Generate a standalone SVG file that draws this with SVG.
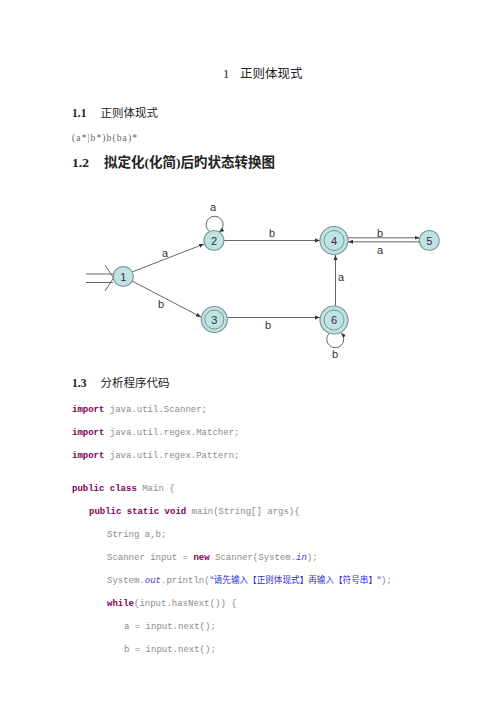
<svg xmlns="http://www.w3.org/2000/svg" width="500" height="707" viewBox="0 0 500 707">
<defs>
<marker id="arr" viewBox="0 0 10 10" refX="10" refY="5" markerWidth="5" markerHeight="5" orient="auto-start-reverse" markerUnits="userSpaceOnUse">
<path d="M0,1 L10,5 L0,9 z" fill="#333"/>
</marker>
<style>
.h{font-family:"Liberation Serif","Noto Sans CJK SC",serif;fill:#222}
.b{font-weight:bold}
.n{fill:#bfe2e3;stroke:#7a9698;stroke-width:1.2}
.ni{fill:none;stroke:#7a9698;stroke-width:1}
.nt{font-family:"Liberation Sans",Arial,sans-serif;font-size:11px;fill:#333;text-anchor:middle}
.el{font-family:"Liberation Sans",Arial,sans-serif;font-size:11px;fill:#333;text-anchor:middle}
.e{fill:none;stroke:#666;stroke-width:1}
.c{font-family:"Liberation Mono","Courier New",monospace;font-size:9px;fill:#8a8a8a}
.k{fill:#7f0055;font-weight:bold}
.f{fill:#3b3bd0;font-style:italic}
.s{fill:#3030d8;font-family:"Noto Sans CJK SC","Liberation Serif",serif}
</style>
</defs>
<rect width="500" height="707" fill="#fff"/>

<text class="h" x="223" y="78" font-size="12.5">1<tspan x="240">正则体现式</tspan></text>
<text class="h" x="72" y="117" font-size="11.5"><tspan class="b">1.1</tspan><tspan x="100.5">正则体现式</tspan></text>
<text class="h" x="72" y="141" font-size="9.5" style="fill:#666" textLength="65" lengthAdjust="spacing">(a*|b*)b(ba)*</text>
<text class="h b" x="72" y="167" font-size="13.5">1.2<tspan x="104">拟定化(化简)后旳状态转换图</tspan></text>

<g id="connectors">
<path class="e" d="M86,274 H113 M86,282.5 H113 M105,265 L113.5,278 L105,291"/>
<line class="e" x1="132" y1="272" x2="204" y2="244" marker-end="url(#arr)"/>
<line class="e" x1="132" y1="281" x2="201" y2="317" marker-end="url(#arr)"/>
<line class="e" x1="224" y1="240.5" x2="320" y2="240.5" marker-end="url(#arr)"/>
<line class="e" x1="348" y1="237.8" x2="419.5" y2="237.8" marker-end="url(#arr)"/>
<line class="e" x1="419.5" y1="241.8" x2="348" y2="241.8" marker-end="url(#arr)"/>
<line class="e" x1="228" y1="317.5" x2="320" y2="317.5" marker-end="url(#arr)"/>
<line class="e" x1="335.5" y1="306" x2="335.5" y2="255" marker-end="url(#arr)"/>
<path class="e" d="M209.5,231.5 A8.5,8.5 0 1 1 219,232" marker-end="url(#arr)"/>
<path class="e" d="M329,333.5 A8.5,8.5 0 1 0 341,333" marker-end="url(#arr)"/>
<text class="el" x="165" y="257">a</text>
<text class="el" x="161" y="308">b</text>
<text class="el" x="213" y="211">a</text>
<text class="el" x="272" y="237">b</text>
<text class="el" x="380" y="237">b</text>
<text class="el" x="380" y="254">a</text>
<text class="el" x="341" y="281">a</text>
<text class="el" x="268" y="329">b</text>
<text class="el" x="335" y="358">b</text>
</g>

<g id="node1"><circle class="n" cx="123.3" cy="276.5" r="10"/><text class="nt" x="123.3" y="280.5">1</text></g>
<g id="node2"><circle class="n" cx="214" cy="240.5" r="10"/><text class="nt" x="214" y="244.5">2</text></g>
<g id="node3"><circle class="n" cx="214.3" cy="319.5" r="13"/><circle class="ni" cx="214.3" cy="319.5" r="9.5"/><text class="nt" x="214.3" y="323.5">3</text></g>
<g id="node4"><circle class="n" cx="334" cy="240.5" r="14"/><circle class="ni" cx="334" cy="240.5" r="10"/><text class="nt" x="334" y="244.5">4</text></g>
<g id="node5"><circle class="n" cx="429.3" cy="240.5" r="10"/><text class="nt" x="429.3" y="244.5">5</text></g>
<g id="node6"><circle class="n" cx="334" cy="320" r="14"/><circle class="ni" cx="334" cy="320" r="10"/><text class="nt" x="334" y="324">6</text></g>

<text class="h" x="72" y="387" font-size="11.5"><tspan class="b">1.3</tspan><tspan x="100.5">分析程序代码</tspan></text>

<text class="c" x="72" y="412"><tspan class="k">import</tspan> java.util.Scanner;</text>
<text class="c" x="72" y="435"><tspan class="k">import</tspan> java.util.regex.Matcher;</text>
<text class="c" x="72" y="458"><tspan class="k">import</tspan> java.util.regex.Pattern;</text>
<text class="c" x="72" y="491"><tspan class="k">public class</tspan> Main {</text>
<text class="c" x="89" y="514"><tspan class="k">public static void</tspan> main(String[] args){</text>
<text class="c" x="107" y="537">String a,b;</text>
<text class="c" x="107" y="560">Scanner input = <tspan class="k">new</tspan> Scanner(System.<tspan class="f">in</tspan>);</text>
<text class="c" x="107" y="583">System.<tspan class="f">out</tspan>.println(<tspan class="s" font-size="8.6">"请先输入【正则体现式】再输入【符号串】"</tspan>);</text>
<text class="c" x="107" y="606"><tspan class="k">while</tspan>(input.hasNext()) {</text>
<text class="c" x="124" y="629">a = input.next();</text>
<text class="c" x="124" y="652">b = input.next();</text>
</svg>
